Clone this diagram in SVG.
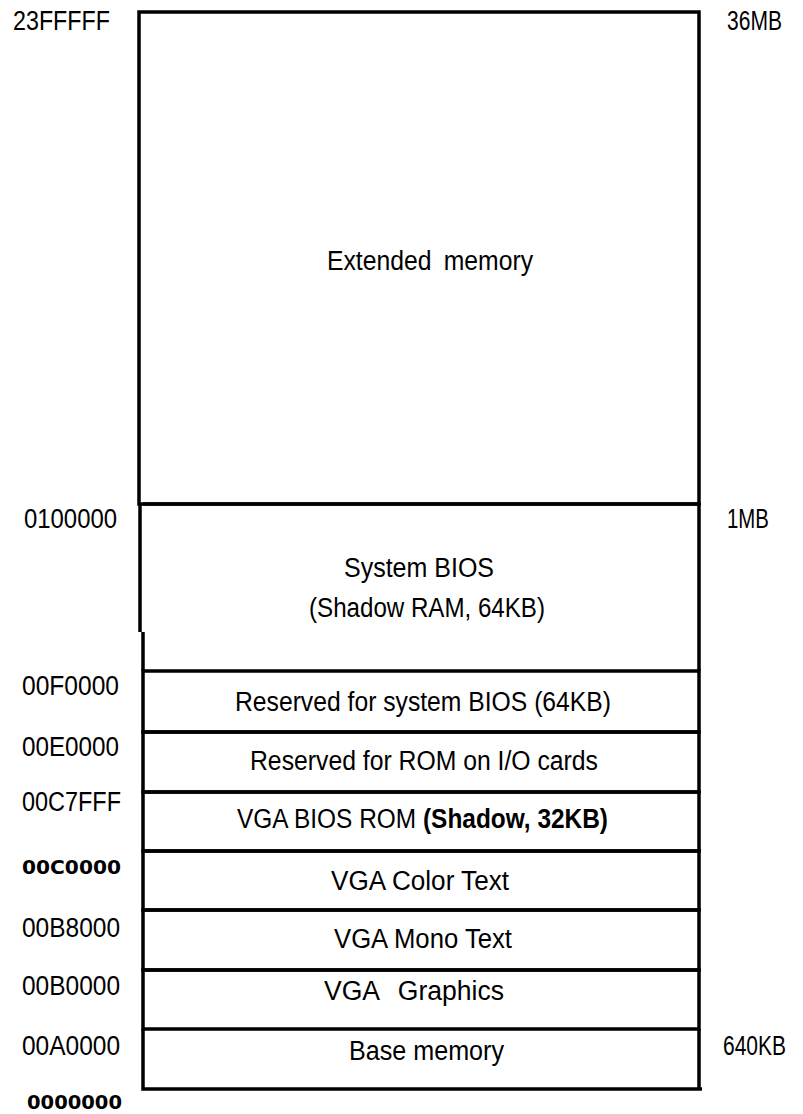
<svg xmlns="http://www.w3.org/2000/svg" width="803" height="1114" viewBox="0 0 803 1114">
<style>
.t{font-family:"Liberation Sans",Arial,sans-serif;font-size:27px;fill:#000}
.b{font-weight:bold}
.bb{font-family:"DejaVu Sans","Liberation Sans",sans-serif;font-weight:bold;font-size:20px;fill:#000}
.box{fill:none;stroke:#000;stroke-width:3.5}
.ln{stroke:#000;stroke-width:3.5;fill:none}
</style>
<rect width="803" height="1114" fill="#fff"/>
<g id="extended">
<rect class="box" x="139" y="12" width="560" height="492"/>
<text class="t" x="327" y="270" textLength="206" lengthAdjust="spacingAndGlyphs" word-spacing="6">Extended memory</text>
</g>
<g id="system-bios">
<path class="ln" d="M143 504H699V671M140 504V632M143 632V671"/>
<text class="t" x="344" y="577" textLength="150" lengthAdjust="spacingAndGlyphs">System BIOS</text>
<text class="t" x="309" y="617" textLength="236" lengthAdjust="spacingAndGlyphs">(Shadow RAM, 64KB)</text>
</g>
<g id="reserved-bios">
<rect class="box" x="143" y="671" width="556" height="61"/>
<text class="t" x="235" y="711" textLength="376" lengthAdjust="spacingAndGlyphs">Reserved for system BIOS (64KB)</text>
</g>
<g id="reserved-rom">
<rect class="box" x="143" y="732" width="556" height="60"/>
<text class="t" x="250" y="770" textLength="348" lengthAdjust="spacingAndGlyphs">Reserved for ROM on I/O cards</text>
</g>
<g id="vga-bios">
<rect class="box" x="143" y="792" width="556" height="59"/>
<text class="t" x="237" y="828" textLength="371" lengthAdjust="spacingAndGlyphs">VGA BIOS ROM <tspan class="b">(Shadow, 32KB)</tspan></text>
</g>
<g id="vga-color">
<rect class="box" x="143" y="851" width="556" height="59"/>
<text class="t" x="331" y="890" textLength="178" lengthAdjust="spacingAndGlyphs">VGA Color Text</text>
</g>
<g id="vga-mono">
<rect class="box" x="143" y="910" width="556" height="60"/>
<text class="t" x="334" y="948" textLength="178" lengthAdjust="spacingAndGlyphs">VGA Mono Text</text>
</g>
<g id="vga-graphics">
<rect class="box" x="143" y="970" width="556" height="59"/>
<text class="t" x="324" y="1000" textLength="180" lengthAdjust="spacingAndGlyphs" word-spacing="12">VGA Graphics</text>
</g>
<g id="base">
<path class="ln" d="M143 1029V1089H702M699 1029V1089"/>
<text class="t" x="349" y="1060" textLength="155" lengthAdjust="spacingAndGlyphs">Base memory</text>
</g>
<g id="addresses">
<text class="t" x="13" y="30" textLength="97" lengthAdjust="spacingAndGlyphs">23FFFFF</text>
<text class="t" x="24" y="528" textLength="93" lengthAdjust="spacingAndGlyphs">0100000</text>
<text class="t" x="22" y="695" textLength="97" lengthAdjust="spacingAndGlyphs">00F0000</text>
<text class="t" x="22" y="756" textLength="97" lengthAdjust="spacingAndGlyphs">00E0000</text>
<text class="t" x="22" y="811" textLength="99" lengthAdjust="spacingAndGlyphs">00C7FFF</text>
<text class="bb" x="22" y="874" textLength="99" lengthAdjust="spacingAndGlyphs">00C0000</text>
<text class="t" x="22" y="937" textLength="98" lengthAdjust="spacingAndGlyphs">00B8000</text>
<text class="t" x="22" y="995" textLength="98" lengthAdjust="spacingAndGlyphs">00B0000</text>
<text class="t" x="22" y="1055" textLength="98" lengthAdjust="spacingAndGlyphs">00A0000</text>
<text class="bb" x="27" y="1109" textLength="95" lengthAdjust="spacingAndGlyphs">0000000</text>
</g>
<g id="sizes">
<text class="t" x="727" y="30" textLength="55" lengthAdjust="spacingAndGlyphs">36MB</text>
<text class="t" x="727" y="528" textLength="42" lengthAdjust="spacingAndGlyphs">1MB</text>
<text class="t" x="723" y="1055" textLength="63" lengthAdjust="spacingAndGlyphs">640KB</text>
</g>
<g id="connectors"></g>
</svg>
